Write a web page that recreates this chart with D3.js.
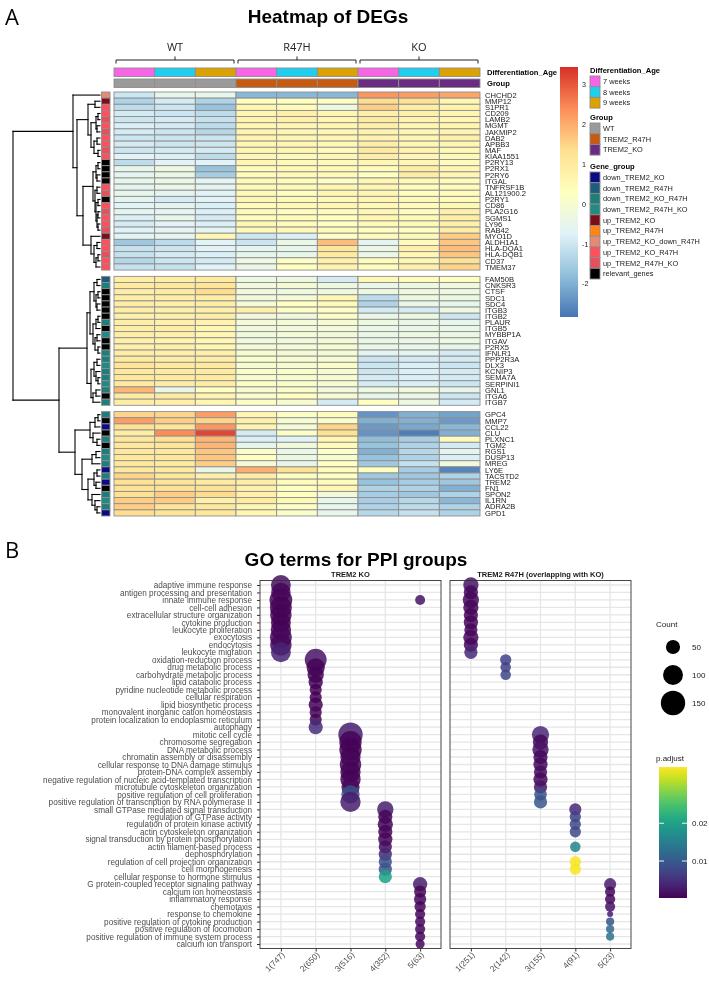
<!DOCTYPE html>
<html>
<head>
<meta charset="utf-8">
<script src="https://cdn.jsdelivr.net/npm/d3@7"></script>
<style>
  body { margin: 0; background: #fff; }
  svg { display: block; font-family: "Liberation Sans", Arial, sans-serif; }
</style>
</head>
<body>
<div id="container"></div>
<script>
/* ---------- DATA: heatmap ---------- */
const samples = ["WT_7", "WT_8", "WT_9", "R47H_7", "R47H_8", "R47H_9", "KO_7", "KO_8", "KO_9"];
const sampleAge = ["7 weeks", "8 weeks", "9 weeks", "7 weeks", "8 weeks", "9 weeks", "7 weeks", "8 weeks", "9 weeks"];
const sampleGroup = ["WT", "WT", "WT", "TREM2_R47H", "TREM2_R47H", "TREM2_R47H", "TREM2_KO", "TREM2_KO", "TREM2_KO"];
const colGroups = ["WT", "R47H", "KO"];

const genes = [
  "CHCHD2", "MMP12", "S1PR1", "CD209", "LAMB2", "MGMT", "JAKMIP2", "DAB2", "APBB3", "MAF",
  "KIAA1551", "P2RY13", "P2RX1", "P2RY6", "ITGAL", "TNFRSF1B", "AL121900.2", "P2RY1", "CD86", "PLA2G16",
  "SGMS1", "LY96", "RAB42", "MYO1D", "ALDH1A1", "HLA-DQA1", "HLA-DQB1", "CD37", "TMEM37",
  "FAM50B", "CNKSR3", "CTSF", "SDC1", "SDC4", "ITGB3", "ITGB2", "PLAUR", "ITGB5", "MYBBP1A",
  "ITGAV", "P2RX5", "IFNLR1", "PPP2R3A", "DLX3", "KCNIP3", "SEMA7A", "SERPINI1", "GNL1", "ITGA6", "ITGB7",
  "GPC4", "MMP7", "CCL22", "CLU", "PLXNC1", "TGM2", "RGS1", "DUSP13", "MREG", "LY6E",
  "TACSTD2", "TREM2", "FN1", "SPON2", "IL1RN", "ADRA2B", "GPD1"
];
const clusterSizes = [29, 21, 17];

const geneGroup = [
  "up_TREM2_KO_down_R47H", "up_TREM2_KO", "up_TREM2_KO_R47H", "up_TREM2_KO_R47H", "up_TREM2_R47H_KO",
  "up_TREM2_KO_R47H", "up_TREM2_R47H_KO", "up_TREM2_KO_R47H", "up_TREM2_KO_R47H", "up_TREM2_R47H_KO",
  "up_TREM2_KO_R47H", "relevant_genes", "relevant_genes", "relevant_genes", "relevant_genes",
  "up_TREM2_KO_R47H", "up_TREM2_R47H_KO", "relevant_genes", "up_TREM2_KO_R47H", "up_TREM2_R47H_KO",
  "up_TREM2_KO_R47H", "up_TREM2_KO_R47H", "up_TREM2_R47H_KO", "up_TREM2_KO", "up_TREM2_KO_R47H",
  "up_TREM2_KO_R47H", "up_TREM2_R47H_KO", "up_TREM2_KO_R47H", "up_TREM2_KO_R47H",
  "down_TREM2_R47H", "down_TREM2_KO_R47H", "relevant_genes", "relevant_genes", "relevant_genes",
  "relevant_genes", "relevant_genes", "down_TREM2_KO_R47H", "relevant_genes", "down_TREM2_R47H_KO",
  "relevant_genes", "relevant_genes", "down_TREM2_KO_R47H", "down_TREM2_KO_R47H", "down_TREM2_R47H_KO",
  "down_TREM2_KO_R47H", "down_TREM2_KO_R47H", "down_TREM2_R47H_KO", "down_TREM2_KO_R47H", "relevant_genes",
  "down_TREM2_KO_R47H",
  "down_TREM2_KO_R47H", "relevant_genes", "down_TREM2_KO", "relevant_genes", "down_TREM2_KO_R47H",
  "relevant_genes", "down_TREM2_KO_R47H", "down_TREM2_R47H_KO", "down_TREM2_KO_R47H", "down_TREM2_KO",
  "down_TREM2_KO_R47H", "down_TREM2_KO", "relevant_genes", "down_TREM2_KO_R47H", "down_TREM2_R47H_KO",
  "down_TREM2_KO_R47H", "down_TREM2_KO"
];

// row z-scores, columns in the order of `samples`
const expr = [
  [-1.0, -0.5, -0.5, -1.9, -1.9, -1.9, 2.3, 2.2, 2.1],
  [-1.4, -0.9, -1.4, 0.3, 0.3, 0.2, 1.4, 1.3, 0.6],
  [-1.2, -1.0, -1.7, 0.6, 0.4, -0.3, 1.6, 0.9, 0.7],
  [-0.9, -1.0, -1.2, 0.6, 0.8, 0.6, 0.8, 0.8, 0.6],
  [-1.0, -0.9, -1.1, 0.7, 0.8, 0.6, 1.0, 0.7, 0.6],
  [-0.8, -0.9, -1.2, 0.6, 0.6, 0.6, 0.8, 0.6, 0.6],
  [-0.9, -1.0, -1.3, 0.7, 0.6, 0.6, 0.7, 0.6, 0.7],
  [-1.0, -1.0, -1.0, 0.7, 0.6, 0.6, 0.7, 0.6, 0.8],
  [-0.9, -1.0, -1.0, 0.6, 0.6, 0.5, 0.9, 0.6, 0.6],
  [-1.0, -0.9, -0.9, 0.6, 0.6, 0.4, 1.0, 0.7, 0.5],
  [-0.7, -0.8, -1.2, 0.6, 0.5, 0.6, 0.9, 0.6, 0.5],
  [-1.2, -0.7, -0.7, 0.6, 0.5, 0.5, 0.6, 0.6, 0.4],
  [-0.5, -0.3, -1.7, 0.4, 0.5, 0.5, 0.4, 0.9, 0.6],
  [-0.6, -0.4, -1.5, 0.4, 0.5, 0.5, 0.3, 0.9, 0.6],
  [-0.5, -0.4, -0.6, 0.5, 0.4, 0.2, 0.6, 0.5, 0.4],
  [-0.6, -0.4, -0.6, 0.5, 0.5, 0.6, 0.6, 0.4, 0.4],
  [-0.5, -0.6, -0.7, 0.5, 0.3, 0.6, 0.6, 0.3, 0.4],
  [-0.6, -0.9, -0.7, 0.6, 0.5, 0.5, 0.6, 0.5, 0.4],
  [-0.7, -0.6, -0.8, 0.4, 0.5, 0.6, 0.5, 0.4, 0.5],
  [-0.6, -0.6, -0.8, 0.5, 0.4, 0.4, 0.6, 0.4, 0.8],
  [-0.8, -0.5, -0.9, 0.4, 0.4, 0.3, 0.6, 0.5, 0.9],
  [-0.9, -0.7, -0.8, 0.6, 0.4, 0.3, 0.5, 0.5, 0.8],
  [-0.7, -0.6, -0.6, 0.5, 0.5, 0.4, 0.3, 0.3, 0.9],
  [-0.7, -0.6, 0.6, -1.0, -0.8, 0.2, 0.4, 0.5, 1.6],
  [-1.6, -1.2, -0.7, -1.0, -0.4, 1.8, -0.6, 0.4, 1.7],
  [-1.1, -1.0, -0.7, -0.6, -0.5, 1.2, -0.4, 0.8, 1.8],
  [-1.1, -0.9, -0.8, -0.5, -0.5, 1.0, -0.4, 0.6, 1.7],
  [-1.3, -1.0, -0.9, -0.3, 0.2, 0.8, 0.4, 0.6, 1.3],
  [-1.1, -1.1, -0.7, -0.4, 0.3, 0.7, 0.4, 0.8, 1.5],
  [0.9, 0.9, 1.0, -0.3, -0.3, -0.9, 0.5, 0.4, 0.3],
  [1.0, 1.1, 1.2, -0.2, -0.1, -0.3, -0.4, -0.3, -0.2],
  [0.9, 1.0, 1.4, -0.2, -0.3, -0.3, -0.3, -0.2, -0.3],
  [0.9, 0.9, 0.9, -0.2, -0.1, 0.6, -1.2, -0.3, -0.3],
  [0.9, 0.8, 0.9, -0.1, 0.3, 0.5, -1.4, -0.4, -0.5],
  [0.9, 0.8, 0.8, 0.8, 0.2, 0.2, -0.9, -0.9, -0.3],
  [0.8, 0.8, 0.9, -0.2, -0.2, 0.2, -0.4, -0.3, -1.0],
  [0.9, 0.8, 0.7, -0.1, -0.1, 0.0, -0.3, -0.4, -0.5],
  [0.9, 0.9, 0.6, -0.2, -0.2, -0.1, -0.4, -0.4, -0.4],
  [0.9, 0.8, 0.6, -0.2, -0.1, -0.2, -0.4, -0.3, -0.4],
  [0.8, 0.7, 0.6, -0.2, -0.2, -0.1, -0.4, -0.4, -0.3],
  [0.8, 0.8, 0.6, -0.1, -0.1, 0.0, -0.4, -0.4, -0.5],
  [0.9, 0.8, 0.8, 0.0, -0.1, -0.1, -0.6, -0.6, -0.9],
  [1.0, 0.9, 0.9, 0.1, 0.0, 0.0, -1.0, -0.9, -0.9],
  [1.2, 1.0, 1.0, 0.0, 0.0, 0.1, -1.0, -0.8, -1.0],
  [1.1, 1.0, 1.0, 0.1, 0.1, 0.0, -1.0, -0.8, -0.9],
  [1.1, 1.0, 1.0, 0.0, 0.0, 0.0, -0.9, -0.8, -0.9],
  [1.0, 0.9, 0.9, 0.2, 0.1, 0.0, -0.9, -0.8, -1.0],
  [1.9, -0.4, 0.3, 0.0, 0.1, -0.2, -0.3, -0.2, -0.5],
  [1.0, 1.0, 0.7, 0.1, 0.3, 0.0, -0.5, -0.4, -1.0],
  [0.9, 0.8, 0.6, 0.2, 0.0, -0.9, 0.3, -0.3, -0.9],
  [1.5, 1.5, 2.2, 0.6, 0.2, 0.4, -2.4, -2.0, -2.2],
  [2.2, 1.6, 1.5, 0.8, 0.0, 0.1, -2.0, -2.0, -2.3],
  [1.3, 1.2, 2.3, 0.7, -0.1, 1.5, -2.3, -2.1, -1.9],
  [0.9, 2.4, 3.2, -0.9, 0.2, 1.3, -2.4, -2.7, -2.0],
  [1.1, 1.3, 1.9, -0.8, -0.7, 0.6, -1.8, -1.5, 0.4],
  [1.1, 1.2, 1.9, -0.5, -0.2, 0.4, -1.7, -1.4, -0.9],
  [1.1, 1.1, 1.7, 0.1, -0.4, 0.2, -2.0, -1.3, -0.6],
  [1.1, 1.1, 1.7, 0.3, -0.3, 0.0, -1.7, -1.4, -0.8],
  [1.1, 1.0, 1.6, -0.1, -0.5, 0.3, -1.6, -1.1, -0.2],
  [1.1, 1.0, -0.4, 2.0, 1.3, 0.4, 0.3, -1.5, -2.6],
  [1.5, 1.1, 0.8, 0.9, 0.3, 0.3, -1.6, -1.6, -1.4],
  [1.3, 1.2, 1.0, 0.9, 0.4, 0.4, -1.7, -1.5, -1.6],
  [1.3, 1.3, 1.3, 0.8, 0.3, 0.6, -1.4, -1.4, -2.0],
  [1.3, 1.6, 1.4, 0.8, 0.3, -0.2, -1.5, -1.6, -1.4],
  [1.6, 1.6, 0.8, 1.0, 0.5, -0.5, -1.5, -1.3, -1.9],
  [1.6, 1.2, 1.1, 0.6, 0.2, -0.5, -1.4, -1.2, -1.4],
  [1.4, 1.2, 1.1, 0.6, 0.1, -0.5, -1.3, -1.1, -1.4]
];

// row dendrogram: [merge height, left, right], leaves are row indices
const rowTree = [87,
  [27, 0,
    [23,
      [12, [5, 1, 2], [9, [4, [2, 3, 4], [3, 5, 6]], [6, [3, 7, 8], [2, 9, 10]]]],
      [17,
        [7, [4, [2, 11, 12], [3, 13, 14]], [5, [3, 15, 16], [4, [2, 17, 18], [3, [2, 19, 20], [2, 21, 22]]]]],
        [9, 23, [6, [3, 24, 25], [4, [2, 26, 27], 28]]]
      ]
    ]
  ],
  [41,
    [13,
      [10, [6, [3, 29, 30], [4, [2, 31, 32], [3, 33, 34]]], [7, [4, [2, 35, 36], 37], [5, [3, 38, 39], [2, 40, 41]]]],
      [9, [6, [3, 42, 43], [4, 44, [2, 45, 46]]], [7, [4, 47, 48], 49]]
    ],
    [25,
      [10, [5, [2, 50, 51], 52], [7, 53, [3, 54, 55]]],
      [18, [8, [4, 56, 57], 58], [12, [6, [3, 59, 60], [4, 61, 62]], [8, 63, [5, 64, [3, 65, 66]]]]]
    ]
  ]
];

const ageLevels = ["7 weeks", "8 weeks", "9 weeks"];
const ageColors = ["#F765E6", "#1ECFEF", "#DCA200"];
const groupLevels = ["WT", "TREM2_R47H", "TREM2_KO"];
const groupColors = ["#9A9A9A", "#C65A10", "#6A2C82"];
const geneGroupLevels = ["down_TREM2_KO", "down_TREM2_R47H", "down_TREM2_KO_R47H", "down_TREM2_R47H_KO",
  "up_TREM2_KO", "up_TREM2_R47H", "up_TREM2_KO_down_R47H", "up_TREM2_KO_R47H", "up_TREM2_R47H_KO", "relevant_genes"];
const geneGroupColors = ["#0B0B85", "#1D5C7E", "#1E7E7C", "#228A82", "#7A0E1A", "#FF8414",
  "#E58A74", "#FF4F5C", "#E5505D", "#000000"];
const hmPalette = ["#4575B4", "#91BFDB", "#E0F3F8", "#FFFFBF", "#FEE090", "#FC8D59", "#D73027"];
const hmLegendTicks = [3, 2, 1, 0, -1, -2];

/* ---------- DATA: GO dot plot ---------- */
const goTerms = [
  "adaptive immune response", "antigen processing and presentation", "innate immune response",
  "cell-cell adhesion", "extracellular structure organization", "cytokine production",
  "leukocyte proliferation", "exocytosis", "endocytosis", "leukocyte migration",
  "oxidation-reduction process", "drug metabolic process", "carbohydrate metabolic process",
  "lipid catabolic process", "pyridine nucleotide metabolic process", "cellular respiration",
  "lipid biosynthetic process", "monovalent inorganic cation homeostasis",
  "protein localization to endoplasmic reticulum", "autophagy",
  "mitotic cell cycle", "chromosome segregation", "DNA metabolic process",
  "chromatin assembly or disassembly", "cellular response to DNA damage stimulus",
  "protein-DNA complex assembly", "negative regulation of nucleic acid-templated transcription",
  "microtubule cytoskeleton organization", "positive regulation of cell proliferation",
  "positive regulation of transcription by RNA polymerase II",
  "small GTPase mediated signal transduction", "regulation of GTPase activity",
  "regulation of protein kinase activity", "actin cytoskeleton organization",
  "signal transduction by protein phosphorylation", "actin filament-based process",
  "dephosphorylation", "regulation of cell projection organization", "cell morphogenesis",
  "cellular response to hormone stimulus", "G protein-coupled receptor signaling pathway",
  "calcium ion homeostasis", "inflammatory response", "chemotaxis", "response to chemokine",
  "positive regulation of cytokine production", "positive regulation of locomotion",
  "positive regulation of immune system process", "calcium ion transport"
];
const koGroups = ["1(747)", "2(650)", "3(516)", "4(352)", "5(63)"];
const r47hGroups = ["1(251)", "2(142)", "3(155)", "4(91)", "5(23)"];
const facetTitles = ["TREM2 KO", "TREM2 R47H (overlapping with KO)"];

// [term index, group index, Count, p.adjust]
const koDots = [
  [0, 0, 100, 0.0015], [1, 0, 95, 0.0008], [2, 0, 130, 0.0008], [3, 0, 120, 0.0005], [4, 0, 115, 0.0005],
  [5, 0, 100, 0.0005], [6, 0, 105, 0.0005], [7, 0, 120, 0.0008], [8, 0, 115, 0.0008], [9, 0, 100, 0.0035],
  [2, 4, 25, 0.002],
  [10, 1, 120, 0.002], [11, 1, 84, 0.0005], [12, 1, 67, 0.0005], [13, 1, 51, 0.0005], [14, 1, 37, 0.0005],
  [15, 1, 37, 0.0005], [16, 1, 51, 0.0005], [17, 1, 37, 0.0008], [18, 1, 37, 0.0008], [19, 1, 51, 0.0045],
  [20, 2, 150, 0.003], [21, 2, 126, 0.0005], [22, 2, 126, 0.0005], [23, 2, 104, 0.0005], [24, 2, 115, 0.0008],
  [25, 2, 104, 0.0005], [26, 2, 104, 0.0005], [27, 2, 84, 0.001], [28, 2, 84, 0.0085], [29, 2, 104, 0.003],
  [30, 3, 67, 0.003], [31, 3, 51, 0.0008], [32, 3, 59, 0.0008], [33, 3, 51, 0.0008], [34, 3, 51, 0.0008],
  [35, 3, 44, 0.0015], [36, 3, 44, 0.004], [37, 3, 44, 0.0085], [38, 3, 44, 0.0095], [39, 3, 44, 0.02],
  [40, 4, 51, 0.003], [41, 4, 37, 0.001], [42, 4, 37, 0.0008], [43, 4, 32, 0.0008], [44, 4, 26, 0.0008],
  [45, 4, 26, 0.001], [46, 4, 26, 0.001], [47, 4, 26, 0.001], [48, 4, 21, 0.001]
];
const r47hDots = [
  [0, 0, 59, 0.002], [1, 0, 51, 0.001], [2, 0, 67, 0.001], [3, 0, 59, 0.0008], [4, 0, 51, 0.0008],
  [5, 0, 51, 0.0008], [6, 0, 44, 0.001], [7, 0, 59, 0.001], [8, 0, 51, 0.001], [9, 0, 44, 0.004],
  [10, 1, 32, 0.007], [11, 1, 28, 0.007], [12, 1, 28, 0.0075],
  [20, 2, 75, 0.004], [21, 2, 59, 0.001], [22, 2, 67, 0.002], [23, 2, 51, 0.001], [24, 2, 51, 0.001],
  [25, 2, 44, 0.0015], [26, 2, 51, 0.001], [27, 2, 44, 0.002], [28, 2, 40, 0.0085], [29, 2, 44, 0.0095],
  [30, 3, 37, 0.004], [31, 3, 32, 0.007], [32, 3, 32, 0.008], [33, 3, 32, 0.008],
  [35, 3, 28, 0.016], [37, 3, 32, 0.0345], [38, 3, 32, 0.0345],
  [40, 4, 37, 0.003], [41, 4, 26, 0.001], [42, 4, 26, 0.001], [43, 4, 26, 0.002], [44, 4, 9, 0.003],
  [45, 4, 17, 0.009], [46, 4, 17, 0.012], [47, 4, 17, 0.013]
];
const countLegend = [50, 100, 150];
const padjTicks = [0.02, 0.01];

/* ---------- SVG ---------- */
const width = 709, height = 984;
const svgRoot = d3.select("#container").append("svg")
  .attr("width", width).attr("height", height);
svgRoot.append("rect").attr("width", width).attr("height", height).attr("fill", "#fff");
// group opacity keeps small text in greyscale antialiasing
const svg = svgRoot.append("g").style("opacity", 0.999);

svg.append("text").attr("x", 5).attr("y", 25)
  .style("font-size", "22px").style("font-family", "'Open Sans', sans-serif").text("A");
svg.append("text").attr("x", 328).attr("y", 23).attr("text-anchor", "middle")
  .style("font-size", "19px").style("font-weight", "bold").text("Heatmap of DEGs");

/* ---------- HEATMAP ---------- */
const hmLeft = 114, hmRight = 480, hmTop = 92;
const rowH = 6.14, gapH = 6.3;
const xCol = d3.scaleBand().domain(samples).range([hmLeft, hmRight]);
const yIdx = d3.scaleLinear().domain([0, 1]).range([hmTop, hmTop + rowH]);
const clusterOf = i => i < clusterSizes[0] ? 0 : i < clusterSizes[0] + clusterSizes[1] ? 1 : 2;
const rowY = i => yIdx(i) + clusterOf(i) * gapH;

const hmLo = -2.83, hmHi = 3.45;
const hmColor = d3.scaleLinear()
  .domain(d3.range(hmPalette.length).map(k => hmLo + k * (hmHi - hmLo) / (hmPalette.length - 1)))
  .range(hmPalette).clamp(true);

const cells = expr.flatMap((row, i) => row.map((v, j) => ({ i, j, v })));
svg.append("g").selectAll("rect").data(cells).join("rect")
  .attr("x", d => xCol(samples[d.j]))
  .attr("y", d => rowY(d.i))
  .attr("width", xCol.bandwidth())
  .attr("height", rowH)
  .attr("fill", d => hmColor(d.v))
  .attr("stroke", "#8e8e8e")
  .attr("stroke-width", 0.9);

// column annotations
const annRows = [
  { label: "Differentiation_Age", y: 68, vals: sampleAge, lv: ageLevels, cols: ageColors },
  { label: "Group", y: 79, vals: sampleGroup, lv: groupLevels, cols: groupColors }
];
const annH = 8.5;
annRows.forEach(a => {
  const c = d3.scaleOrdinal().domain(a.lv).range(a.cols);
  svg.append("g").selectAll("rect").data(samples).join("rect")
    .attr("x", d => xCol(d)).attr("y", a.y)
    .attr("width", xCol.bandwidth()).attr("height", annH)
    .attr("fill", (d, j) => c(a.vals[j]))
    .attr("stroke", "#8e8e8e").attr("stroke-width", 0.9);
  svg.append("text").attr("x", hmRight + 7).attr("y", a.y + annH / 2 + 2.6)
    .style("font-size", "7.6px").style("font-weight", "bold").text(a.label);
});

// column group brackets
const bracket = svg.append("g").attr("fill", "none").attr("stroke", "#222").attr("stroke-width", 1);
colGroups.forEach((g, k) => {
  const x0 = xCol(samples[k * 3]) + 2, x1 = xCol(samples[k * 3 + 2]) + xCol.bandwidth() - 2;
  const xm = (x0 + x1) / 2;
  bracket.append("path").attr("d", `M${x0},63.5V60H${x1}V63.5M${xm},60V56.5`);
  svg.append("text").attr("x", xm).attr("y", 51).attr("text-anchor", "middle")
    .style("font-size", "11px").style("font-family", "'Open Sans', sans-serif").attr("fill", "#222").text(g);
});

// row annotation
const ggColor = d3.scaleOrdinal().domain(geneGroupLevels).range(geneGroupColors);
svg.append("g").selectAll("rect").data(genes).join("rect")
  .attr("x", 101.5).attr("y", (d, i) => rowY(i))
  .attr("width", 8.5).attr("height", rowH)
  .attr("fill", (d, i) => ggColor(geneGroup[i]))
  .attr("stroke", "#8e8e8e").attr("stroke-width", 0.9);

// gene labels
svg.append("g").selectAll("text").data(genes).join("text")
  .attr("x", hmRight + 5).attr("y", (d, i) => rowY(i) + rowH / 2 + 2.7)
  .style("font-size", "7.6px").attr("fill", "#1a1a1a").text(d => d);

// dendrogram
const xDen = d3.scaleLinear().domain([0, 87]).range([100, 13]);
const denSegs = [];
function placeNode(node) {
  if (typeof node === "number") return { y: rowY(node) + rowH / 2, h: 0 };
  const [h, a, b] = node;
  const L = placeNode(a), R = placeNode(b);
  denSegs.push([xDen(L.h), L.y, xDen(h), L.y], [xDen(R.h), R.y, xDen(h), R.y], [xDen(h), L.y, xDen(h), R.y]);
  return { y: (L.y + R.y) / 2, h };
}
placeNode(rowTree);
svg.append("g").selectAll("line").data(denSegs).join("line")
  .attr("x1", d => d[0]).attr("y1", d => d[1]).attr("x2", d => d[2]).attr("y2", d => d[3])
  .attr("stroke", "#000").attr("stroke-width", 1.1).attr("stroke-linecap", "square");

// color key
const keyX = 560, keyW = 18;
const yKey = d3.scaleLinear().domain([hmLo, hmHi]).range([317, 67]);
const defs = svgRoot.append("defs");
const hmGrad = defs.append("linearGradient").attr("id", "hmgrad")
  .attr("x1", 0).attr("y1", 1).attr("x2", 0).attr("y2", 0);
hmGrad.selectAll("stop").data(hmColor.domain()).join("stop")
  .attr("offset", d => (d - hmLo) / (hmHi - hmLo)).attr("stop-color", d => hmColor(d));
svg.append("rect").attr("x", keyX).attr("y", yKey(hmHi)).attr("width", keyW)
  .attr("height", yKey(hmLo) - yKey(hmHi)).attr("fill", "url(#hmgrad)");
svg.append("g").selectAll("text").data(hmLegendTicks).join("text")
  .attr("x", keyX + keyW + 4).attr("y", d => yKey(d) + 2.5)
  .style("font-size", "7.2px").attr("fill", "#222").text(d => d);

// annotation legends
const legX = 590;
function annLegend(title, y0, levels, colors) {
  svg.append("text").attr("x", legX).attr("y", y0).style("font-size", "7.6px")
    .style("font-weight", "bold").text(title);
  const yL = d3.scaleBand().domain(levels).range([y0 + 3, y0 + 3 + levels.length * 10.7]);
  svg.append("g").selectAll("rect").data(levels).join("rect")
    .attr("x", legX).attr("y", d => yL(d)).attr("width", 10).attr("height", yL.bandwidth())
    .attr("fill", (d, k) => colors[k]).attr("stroke", "#8e8e8e").attr("stroke-width", 0.9);
  svg.append("g").selectAll("text").data(levels).join("text")
    .attr("x", legX + 13).attr("y", d => yL(d) + yL.bandwidth() / 2 + 2.6)
    .style("font-size", "7.4px").attr("fill", "#1a1a1a").text(d => d);
}
annLegend("Differentiation_Age", 73, ageLevels, ageColors);
annLegend("Group", 120, groupLevels, groupColors);
annLegend("Gene_group", 169, geneGroupLevels, geneGroupColors);

/* ---------- GO DOT PLOT ---------- */
svg.append("text").attr("x", 5).attr("y", 558)
  .style("font-size", "22px").style("font-family", "'Open Sans', sans-serif").text("B");
svg.append("text").attr("x", 356).attr("y", 566).attr("text-anchor", "middle")
  .style("font-size", "19px").style("font-weight", "bold").text("GO terms for PPI groups");

const pTop = 580.5, pBot = 948.5;
const axisFont = "8.2px";
const yTerm = d3.scalePoint().domain(goTerms).range([pTop, pBot]).padding(0.6);
const rScale = d3.scaleSqrt().domain([0, 150]).range([0, 12.2]);
const pLo = 0.0002, pHi = 0.0349;
const pColor = d3.scaleSequential(d3.interpolateViridis).domain([pLo, pHi]);

const panels = [
  { x0: 260, x1: 441, groups: koGroups, dots: koDots, title: facetTitles[0] },
  { x0: 450, x1: 631, groups: r47hGroups, dots: r47hDots, title: facetTitles[1] }
];

panels.forEach((p, pi) => {
  const xG = d3.scalePoint().domain(p.groups).range([p.x0, p.x1]).padding(0.6);
  const g = svg.append("g");
  // grid
  g.append("g").selectAll("line").data(goTerms).join("line")
    .attr("x1", p.x0).attr("x2", p.x1).attr("y1", d => yTerm(d)).attr("y2", d => yTerm(d))
    .attr("stroke", "#e6e6e6").attr("stroke-width", 1.3);
  g.append("g").selectAll("line").data(p.groups).join("line")
    .attr("y1", pTop).attr("y2", pBot).attr("x1", d => xG(d)).attr("x2", d => xG(d))
    .attr("stroke", "#e6e6e6").attr("stroke-width", 1.3);
  // dots
  g.append("g").selectAll("circle").data(p.dots).join("circle")
    .attr("cx", d => xG(p.groups[d[1]])).attr("cy", d => yTerm(goTerms[d[0]]))
    .attr("r", d => rScale(d[2]))
    .attr("fill", d => pColor(d[3])).attr("fill-opacity", 0.85);
  // border
  g.append("rect").attr("x", p.x0).attr("y", pTop).attr("width", p.x1 - p.x0).attr("height", pBot - pTop)
    .attr("fill", "none").attr("stroke", "#333").attr("stroke-width", 0.9);
  // x axis
  const xAxis = g.append("g").attr("transform", `translate(0,${pBot})`)
    .call(d3.axisBottom(xG).tickSize(3).tickSizeOuter(0));
  xAxis.select(".domain").remove();
  xAxis.selectAll(".tick line").attr("stroke", "#333");
  xAxis.selectAll(".tick text")
    .style("font-size", axisFont).style("font-family", "'Liberation Sans', Arial, sans-serif")
    .attr("fill", "#4d4d4d").attr("text-anchor", "end")
    .attr("transform", "translate(-1,2) rotate(-45)").attr("dy", "0.6em").attr("y", 2).attr("x", 0);
  // facet title
  svg.append("text").attr("x", (p.x0 + p.x1) / 2).attr("y", 577).attr("text-anchor", "middle")
    .style("font-size", "7.5px").style("font-weight", "bold").attr("fill", "#1a1a1a").text(p.title);
  if (pi === 0) {
    const yAxis = g.append("g").attr("transform", `translate(${p.x0},0)`)
      .call(d3.axisLeft(yTerm).tickSize(3).tickSizeOuter(0).tickPadding(5));
    yAxis.select(".domain").remove();
    yAxis.selectAll(".tick line").attr("stroke", "#333");
    yAxis.selectAll(".tick text").style("font-size", axisFont)
      .style("font-family", "'Liberation Sans', Arial, sans-serif").attr("fill", "#4d4d4d");
  }
});

// Count legend
const lgX = 656, lgFont = "8px";
svg.append("text").attr("x", lgX).attr("y", 627).style("font-size", lgFont).attr("fill", "#1a1a1a").text("Count");
const yCnt = d3.scalePoint().domain(countLegend).range([647, 703]);
svg.append("g").selectAll("circle").data(countLegend).join("circle")
  .attr("cx", 673).attr("cy", d => yCnt(d)).attr("r", d => rScale(d)).attr("fill", "#000");
svg.append("g").selectAll("text").data(countLegend).join("text")
  .attr("x", 692).attr("y", d => yCnt(d) + 2.8).style("font-size", lgFont).attr("fill", "#1a1a1a").text(d => d);

// p.adjust legend
svg.append("text").attr("x", lgX).attr("y", 761).style("font-size", lgFont).attr("fill", "#1a1a1a").text("p.adjust");
const yP = d3.scaleLinear().domain([pLo, pHi]).range([898, 767]);
const pGrad = defs.append("linearGradient").attr("id", "pgrad")
  .attr("x1", 0).attr("y1", 1).attr("x2", 0).attr("y2", 0);
pGrad.selectAll("stop").data(d3.range(0, 1.001, 0.1)).join("stop")
  .attr("offset", d => d).attr("stop-color", d => d3.interpolateViridis(d));
svg.append("rect").attr("x", 659).attr("y", yP(pHi)).attr("width", 28)
  .attr("height", yP(pLo) - yP(pHi)).attr("fill", "url(#pgrad)");
padjTicks.forEach(t => {
  svg.append("path").attr("d", `M659,${yP(t)}h5M687,${yP(t)}h-5`).attr("stroke", "#fff").attr("stroke-width", 0.9);
});
svg.append("g").selectAll("text").data(padjTicks).join("text")
  .attr("x", 692).attr("y", d => yP(d) + 2.8).style("font-size", lgFont).attr("fill", "#1a1a1a").text(d => d);
</script>
</body>
</html>
